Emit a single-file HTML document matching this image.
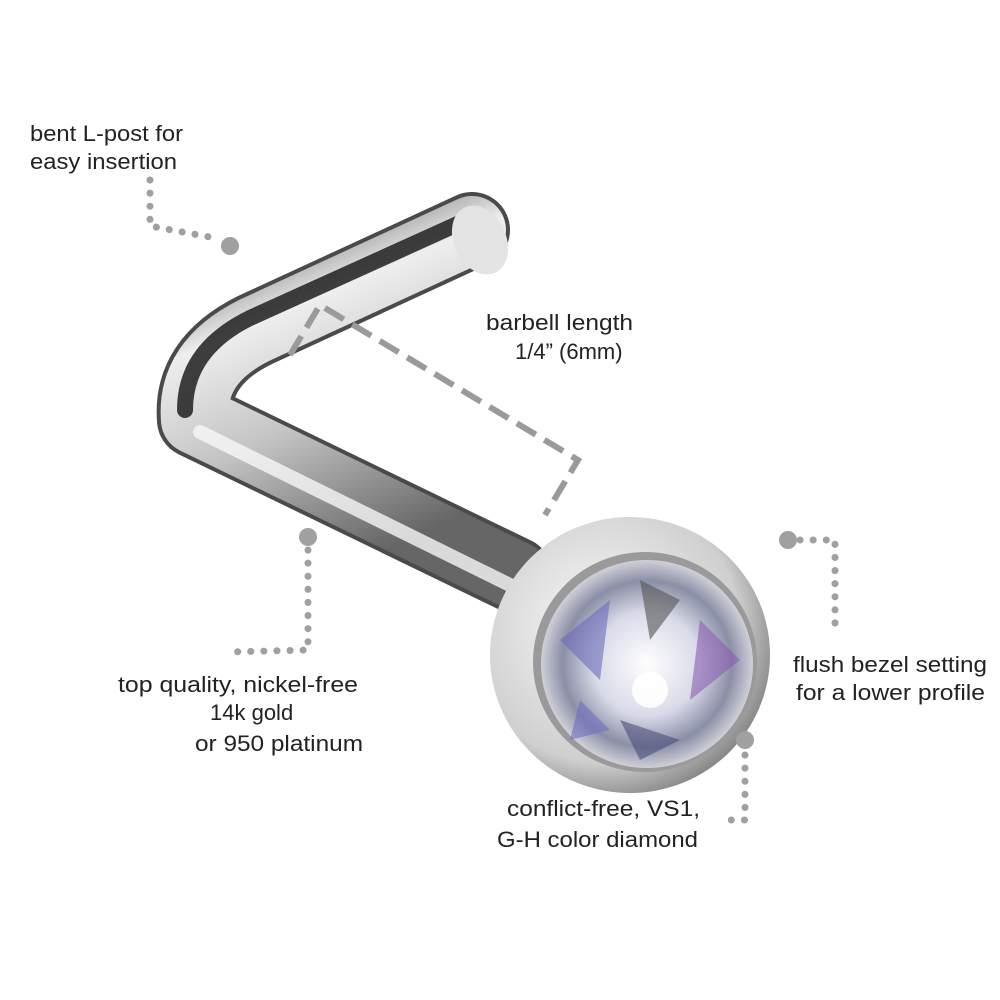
<!DOCTYPE html>
<html><head><meta charset="utf-8"><style>
html,body{margin:0;padding:0;background:#fff;}
svg{display:block}
text{font-family:"Liberation Sans",sans-serif;font-size:22px;fill:#222}
</style></head><body>
<svg width="1000" height="1000" viewBox="0 0 1000 1000">
<defs>
<linearGradient id="shaft" x1="0" y1="0" x2="0.4" y2="1">
<stop offset="0" stop-color="#444"/><stop offset="0.3" stop-color="#eee"/><stop offset="0.6" stop-color="#c4c4c4"/><stop offset="1" stop-color="#666"/>
</linearGradient>
<radialGradient id="dia" cx="0.5" cy="0.5" r="0.5">
<stop offset="0" stop-color="#fff"/><stop offset="0.5" stop-color="#d8dae8"/><stop offset="0.8" stop-color="#8b8fa6"/><stop offset="1" stop-color="#cfd0d8"/>
</radialGradient>
<radialGradient id="bez" cx="0.4" cy="0.4" r="0.7">
<stop offset="0" stop-color="#fafafa"/><stop offset="0.7" stop-color="#cfcfcf"/><stop offset="1" stop-color="#6a6a6a"/>
</radialGradient>
</defs>

<path d="M472,230 L255,330 Q190,362 195,420 L515,575" fill="none" stroke="#4a4a4a" stroke-width="76" stroke-linecap="round" stroke-linejoin="round"/>
<path d="M472,230 L255,330 Q190,362 195,420 L515,575" fill="none" stroke="url(#shaft)" stroke-width="68" stroke-linecap="round" stroke-linejoin="round"/>
<path d="M462,222 L250,318 Q185,350 185,410" fill="none" stroke="#1e1e1e" stroke-width="16" stroke-linecap="round" opacity="0.85"/>
<path d="M200,432 L510,585" fill="none" stroke="#f8f8f8" stroke-width="14" stroke-linecap="round" opacity="0.8"/>
<ellipse cx="480" cy="240" rx="26" ry="36" fill="#e4e4e4" transform="rotate(-25 480 240)"/>

<ellipse cx="630" cy="655" rx="140" ry="138" fill="url(#bez)"/>
<ellipse cx="645" cy="662" rx="112" ry="110" fill="#9a9a9a"/>
<ellipse cx="647" cy="664" rx="106" ry="104" fill="url(#dia)"/>
<g opacity="0.6">
<polygon points="560,640 610,600 600,680" fill="#6d6dbb"/>
<polygon points="700,620 740,660 690,700" fill="#8a5fb0"/>
<polygon points="620,720 680,740 640,760" fill="#4c4f7a"/>
<polygon points="640,580 680,600 650,640" fill="#555"/>
<polygon points="580,700 610,730 570,740" fill="#7070c0"/>
</g>
<circle cx="650" cy="690" r="18" fill="#fff" opacity="0.9"/>

<g stroke="#a0a0a0" stroke-width="7" stroke-linecap="round" stroke-dasharray="0.1 13" fill="none">
<path d="M150,180 L150,226 L215,238"/>
<path d="M308,550 L308,650 L228,652"/>
<path d="M800,540 L835,540 L835,635"/>
<path d="M745,755 L745,820 L722,820"/>
</g>
<g fill="#a0a0a0">
<circle cx="230" cy="246" r="9"/>
<circle cx="308" cy="537" r="9"/>
<circle cx="788" cy="540" r="9"/>
<circle cx="745" cy="740" r="9"/>
</g>
<path d="M290,355 L320,305 L578,460 L545,515" fill="none" stroke="#9a9a9a" stroke-width="6" stroke-dasharray="22 10"/>

<text x="30" y="141" textLength="153" lengthAdjust="spacingAndGlyphs">bent L-post for</text>
<text x="30" y="169" textLength="147" lengthAdjust="spacingAndGlyphs">easy insertion</text>
<text x="486" y="330" textLength="147" lengthAdjust="spacingAndGlyphs">barbell length</text>
<text x="515" y="359">1/4” (6mm)</text>
<text x="118" y="692" textLength="240" lengthAdjust="spacingAndGlyphs">top quality, nickel-free</text>
<text x="210" y="720">14k gold</text>
<text x="195" y="751" textLength="168" lengthAdjust="spacingAndGlyphs">or 950 platinum</text>
<text x="793" y="672" textLength="194" lengthAdjust="spacingAndGlyphs">flush bezel setting</text>
<text x="796" y="700" textLength="189" lengthAdjust="spacingAndGlyphs">for a lower profile</text>
<text x="507" y="816" textLength="193" lengthAdjust="spacingAndGlyphs">conflict-free, VS1,</text>
<text x="497" y="847" textLength="201" lengthAdjust="spacingAndGlyphs">G-H color diamond</text>
</svg>
</body></html>
